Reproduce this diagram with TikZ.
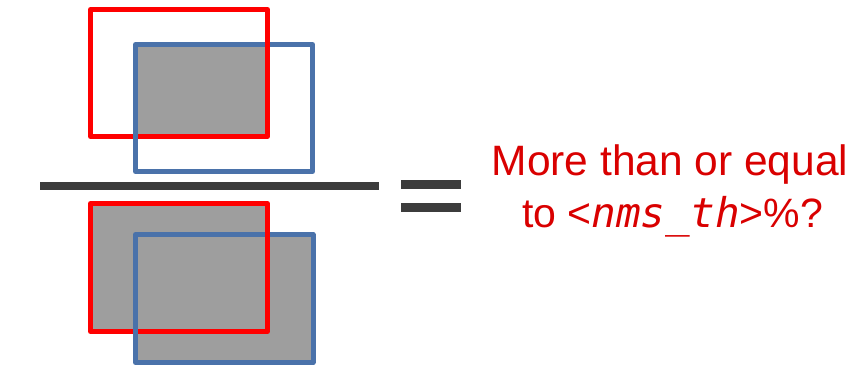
\documentclass[tikz,border=0pt]{standalone}
\usepackage{fontspec}
\setmainfont{Liberation Sans}
\newfontfamily\codefont{DejaVu Sans Mono}
\definecolor{boxred}{HTML}{FF0000}
\definecolor{boxblue}{HTML}{4A72AA}
\definecolor{overlap}{HTML}{9E9E9E}
\definecolor{bar}{HTML}{3C3C3C}
\definecolor{txtred}{HTML}{D90000}
\tikzset{
  gtbox/.style={draw=boxred,line width=5pt,line join=round},
  predbox/.style={draw=boxblue,line width=5pt,line join=round},
  question/.style={text=txtred,anchor=base,inner sep=0pt,font=\fontsize{41}{51}\selectfont},
}
\begin{document}
\begin{tikzpicture}[x=1pt,y=-1pt,line cap=butt]
\useasboundingbox (0,0) rectangle (864,366);
% numerator: intersection of the two boxes
\fill[overlap] (135.5,44.5) rectangle (267.5,136.5);
\draw[gtbox] (90.5,9.5) rectangle (267.5,136.5);
\draw[predbox] (135.5,44.5) rectangle (312.5,171.5);
\draw[boxred,line width=5pt] (267.5,42) -- (267.5,47);
% fraction bar
\draw[bar,line width=8pt] (40,186) -- (379,186);
% denominator: union of the two boxes
\fill[overlap] (90.5,203.5) rectangle (267.5,331.5);
\fill[overlap] (135.5,234.5) rectangle (313,362.5);
\draw[gtbox] (90.5,203.5) rectangle (267.5,331.5);
\draw[predbox] (135.5,234.5) rectangle (313,362.5);
\draw[boxred,line width=5pt] (267.5,232) -- (267.5,237);
% equals sign
\draw[bar,line width=9pt] (401,184.5) -- (461,184.5);
\draw[bar,line width=9pt] (401,207.5) -- (461,207.5);
% threshold question
\node[question,font=\fontsize{42.5}{51}\selectfont] (q1) at (670,176) {More than or equal};
\node[question] (q2) at (672.5,227) {to <{\codefont\itshape nms\_th}>\%?};
\end{tikzpicture}
\end{document}
